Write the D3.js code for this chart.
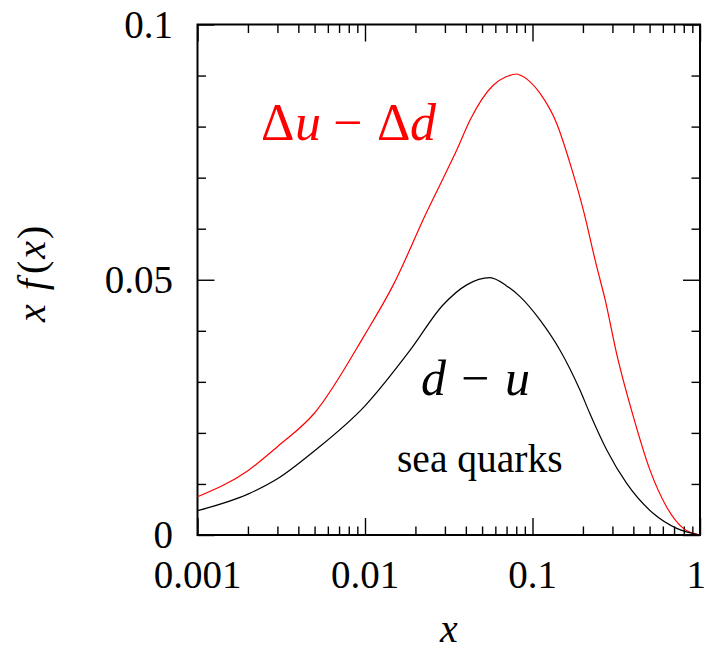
<!DOCTYPE html>
<html><head><meta charset="utf-8">
<script src="https://cdn.jsdelivr.net/npm/d3@7"></script>
<style>
body{margin:0;background:#fff;}
svg text{font-family:"Liberation Serif","Times New Roman",serif;}
</style></head>
<body><svg id="c" width="706" height="652"></svg>
<script>
// ---- data ----
const redX = [0.001,0.002,0.003,0.005,0.01,0.01476,0.0234,0.0293,0.0353,0.0424,0.0583,0.0700,0.0805,0.0842,0.0950,0.111,0.1395,0.1675,0.201,0.2416,0.271,0.318,0.40,0.503,0.632,0.795,1.0];
const redY = [0.0075,0.0126,0.0173,0.0239,0.0393,0.0490,0.0633,0.0699,0.0754,0.0813,0.0881,0.0898,0.0903,0.0901,0.0890,0.0865,0.0806,0.0728,0.0637,0.0526,0.0462,0.0355,0.0232,0.0127,0.0055,0.0013,0.0];
const blackX = [0.001,0.002,0.003,0.005,0.01,0.0186,0.0293,0.0405,0.0557,0.070,0.0842,0.111,0.146,0.192,0.220,0.277,0.365,0.527,0.726,1.0];
const blackY = [0.00476,0.0080,0.0110,0.0165,0.0253,0.0362,0.0451,0.0490,0.0504,0.0488,0.0467,0.0421,0.0362,0.0284,0.0238,0.0167,0.0101,0.0042,0.0013,0.0];
const xMajor = [0.001,0.01,0.1,1];
const xMajorLabels = ["0.001","0.01","0.1","1"];
const yMajor = [0,0.05,0.1];
const yMajorLabels = ["0","0.05","0.1"];
const yMinor = [0.01,0.02,0.03,0.04,0.06,0.07,0.08,0.09];

// ---- layout ----
const L=197.5, R=700, T=24.5, B=535;
const svg = d3.select("#c");
const x = d3.scaleLog().domain([0.001,1]).range([L,R]);
const y = d3.scaleLinear().domain([0,0.1]).range([B,T]);

const xMinor = [];
[0.001,0.01,0.1].forEach(d=>{for(let k=2;k<=9;k++) xMinor.push(d*k);});

function styleAxis(g){g.select(".domain").remove(); g.selectAll("line").attr("stroke","#000").attr("stroke-width",1.4);}

// x ticks bottom/top
svg.append("g").attr("transform",`translate(0,${B})`).call(d3.axisBottom(x).tickValues(xMinor).tickSize(-8.5).tickFormat("")).call(styleAxis);
svg.append("g").attr("transform",`translate(0,${B})`).call(d3.axisBottom(x).tickValues(xMajor).tickSize(-17).tickFormat("")).call(styleAxis);
svg.append("g").attr("transform",`translate(0,${T})`).call(d3.axisTop(x).tickValues(xMinor).tickSize(-8.5).tickFormat("")).call(styleAxis);
svg.append("g").attr("transform",`translate(0,${T})`).call(d3.axisTop(x).tickValues(xMajor).tickSize(-17).tickFormat("")).call(styleAxis);
// y ticks left/right
svg.append("g").attr("transform",`translate(${L},0)`).call(d3.axisLeft(y).tickValues(yMinor).tickSize(-8.5).tickFormat("")).call(styleAxis);
svg.append("g").attr("transform",`translate(${L},0)`).call(d3.axisLeft(y).tickValues(yMajor).tickSize(-17).tickFormat("")).call(styleAxis);
svg.append("g").attr("transform",`translate(${R},0)`).call(d3.axisRight(y).tickValues(yMinor).tickSize(-8.5).tickFormat("")).call(styleAxis);
svg.append("g").attr("transform",`translate(${R},0)`).call(d3.axisRight(y).tickValues(yMajor).tickSize(-17).tickFormat("")).call(styleAxis);

// frame
svg.append("rect").attr("x",L).attr("y",T).attr("width",R-L).attr("height",B-T)
  .attr("fill","none").attr("stroke","#000").attr("stroke-width",2);

// tick labels
svg.append("g").selectAll("text").data(xMajor).join("text")
  .attr("x",(d,i)=> i===xMajor.length-1 ? 706 : x(d)).attr("y",588)
  .attr("text-anchor",(d,i)=> i===xMajor.length-1 ? "end" : "middle")
  .attr("font-size",39).text((d,i)=>xMajorLabels[i]);
svg.append("g").selectAll("text").data(yMajor).join("text")
  .attr("x",173).attr("y",d=>y(d)+13).attr("text-anchor","end")
  .attr("font-size",39).text((d,i)=>yMajorLabels[i]);

// axis titles
svg.append("text").attr("x",449).attr("y",642).attr("text-anchor","middle")
  .attr("font-size",40).attr("font-style","italic").text("x");
const yl = svg.append("text").attr("transform","translate(45,322) rotate(-90)")
  .attr("text-anchor","start").attr("font-size",40);
yl.append("tspan").attr("font-style","italic").text("x");
yl.append("tspan").attr("dx",14).attr("font-style","italic").text("f");
yl.append("tspan").attr("dx",5).text("(");
yl.append("tspan").attr("dx",2).attr("font-style","italic").text("x");
yl.append("tspan").attr("dx",2).text(")");

// curves
const line = d3.line().x(d=>x(d[0])).y(d=>y(d[1])).curve(d3.curveMonotoneX);
svg.append("path").datum(redX.map((v,i)=>[v,redY[i]]))
  .attr("d",line).attr("fill","none").attr("stroke","#ff0000").attr("stroke-width",1.2);
svg.append("path").datum(blackX.map((v,i)=>[v,blackY[i]]))
  .attr("d",line).attr("fill","none").attr("stroke","#000").attr("stroke-width",1.2);

// annotations
const t1 = svg.append("text").attr("y",140).attr("font-size",52).attr("fill","#ff0000");
t1.append("tspan").attr("x",261).text("Δ");
t1.append("tspan").attr("x",295).attr("font-style","italic").text("u");
t1.append("tspan").attr("x",333).text("−");
t1.append("tspan").attr("x",377).text("Δ");
t1.append("tspan").attr("x",410).attr("font-style","italic").text("d");

const t2 = svg.append("text").attr("y",395).attr("font-size",50).attr("fill","#000");
t2.append("tspan").attr("x",421).attr("font-style","italic").text("d");
t2.append("tspan").attr("x",461).text("−");
t2.append("tspan").attr("x",505).attr("font-style","italic").text("u");

svg.append("text").attr("x",397).attr("y",472).attr("font-size",39.5).text("sea quarks");
</script></body></html>
